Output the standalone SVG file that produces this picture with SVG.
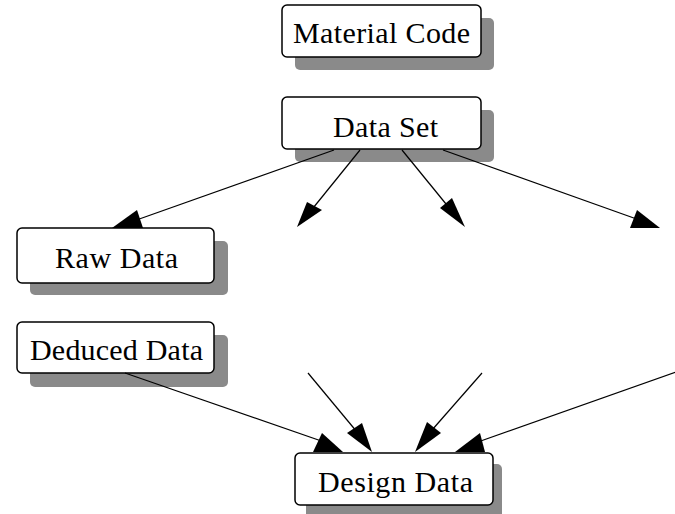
<svg xmlns="http://www.w3.org/2000/svg" width="675" height="514" viewBox="0 0 675 514">
<style>
.box{fill:#ffffff;stroke:#000000;stroke-width:1.5}
.shadow{fill:#8a8a8a;stroke:none}
.lbl{font-family:"Liberation Serif","Times New Roman",serif;font-size:30px;fill:#000000}
.edge{stroke:#000000;stroke-width:1.2;fill:none}
.head{fill:#000000;stroke:none}
</style>
<rect width="675" height="514" fill="#ffffff"/>
<g id="node-material-code">
<rect class="shadow" x="295" y="18" width="199" height="52" rx="5"/>
<rect class="box" x="282" y="5" width="199" height="52" rx="5"/>
<text class="lbl" x="293" y="43" textLength="177" lengthAdjust="spacing">Material Code</text>
</g>
<g id="node-data-set">
<rect class="shadow" x="295" y="110" width="199" height="52" rx="5"/>
<rect class="box" x="282" y="97" width="199" height="52" rx="5"/>
<text class="lbl" x="333" y="137" textLength="105" lengthAdjust="spacing">Data Set</text>
</g>
<g id="node-raw-data">
<rect class="shadow" x="30" y="241" width="198" height="54" rx="5"/>
<rect class="box" x="17" y="228" width="197" height="55" rx="5"/>
<text class="lbl" x="55" y="268" textLength="123" lengthAdjust="spacing">Raw Data</text>
</g>
<g id="node-deduced-data">
<rect class="shadow" x="30" y="335" width="198" height="52" rx="5"/>
<rect class="box" x="17" y="322" width="197" height="51" rx="5"/>
<text class="lbl" x="30" y="360" textLength="173" lengthAdjust="spacing">Deduced Data</text>
</g>
<g id="node-design-data">
<rect class="shadow" x="306" y="464" width="196" height="54" rx="5"/>
<rect class="box" x="295" y="453" width="198" height="52" rx="5"/>
<text class="lbl" x="318" y="492" textLength="155" lengthAdjust="spacing">Design Data</text>
</g>
<g id="connectors">
<line class="edge" x1="334" y1="150" x2="128" y2="223"/>
<polygon class="head" points="112,228 143,228 137,210"/>
<line class="edge" x1="360" y1="150" x2="305" y2="218"/>
<polygon class="head" points="297,227 307,202 322,210"/>
<line class="edge" x1="402" y1="150" x2="455" y2="215"/>
<polygon class="head" points="465,227 440,208 452,198"/>
<line class="edge" x1="443" y1="150" x2="645" y2="222"/>
<polygon class="head" points="630,228 660,228 637,210"/>
<line class="edge" x1="125" y1="373" x2="330" y2="444"/>
<polygon class="head" points="313,452 343,452 322,433"/>
<line class="edge" x1="308" y1="373" x2="362" y2="438"/>
<polygon class="head" points="347,433 362,423 372,452"/>
<line class="edge" x1="482" y1="373" x2="425" y2="438"/>
<polygon class="head" points="415,452 427,422 441,433"/>
<line class="edge" x1="676" y1="372" x2="475" y2="443"/>
<polygon class="head" points="455,452 485,452 480,433"/>
</g>
</svg>
